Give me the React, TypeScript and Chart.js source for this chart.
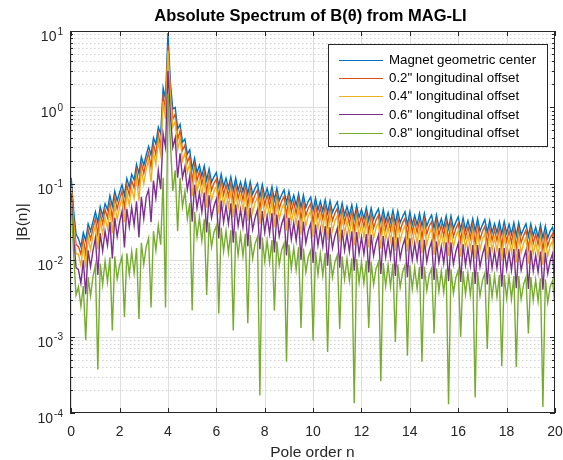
import React, { useEffect, useRef } from "react";
import { Chart, registerables } from "chart.js";

Chart.register(...registerables);

const FONT = '"Liberation Sans", Arial, Helvetica, sans-serif';

// Pole order n, sampled every 0.1 from 0 to 20
const poleOrder: number[] = Array.from({ length: 201 }, (_, i) => i / 10);

const magnetCenter = [
  0.12, 0.045, 0.022, 0.019, 0.015, 0.023, 0.018, 0.03, 0.024, 0.032,
  0.043, 0.031, 0.05, 0.038, 0.055, 0.046, 0.07, 0.051, 0.08, 0.06,
  0.077, 0.097, 0.071, 0.117, 0.091, 0.133, 0.112, 0.18, 0.136, 0.225,
  0.175, 0.238, 0.31, 0.238, 0.4, 0.33, 0.55, 0.45, 1.8, 1.3,
  9.4, 2.1, 0.95, 1.0, 0.52, 0.6, 0.35, 0.386, 0.245, 0.28,
  0.156, 0.215, 0.14, 0.175, 0.126, 0.172, 0.112, 0.157, 0.105, 0.123,
  0.14, 0.093, 0.134, 0.092, 0.118, 0.0875, 0.123, 0.082, 0.119, 0.082,
  0.106, 0.079, 0.111, 0.074, 0.107, 0.0735, 0.0875, 0.101, 0.067, 0.098,
  0.068, 0.087, 0.065, 0.092, 0.061, 0.088, 0.06, 0.072, 0.083, 0.056,
  0.08, 0.055, 0.071, 0.0525, 0.074, 0.049, 0.071, 0.049, 0.059, 0.067,
  0.045, 0.065, 0.0455, 0.059, 0.044, 0.062, 0.0415, 0.06, 0.042, 0.05,
  0.058, 0.039, 0.056, 0.039, 0.0505, 0.038, 0.053, 0.035, 0.052, 0.036,
  0.046, 0.035, 0.049, 0.033, 0.048, 0.034, 0.041, 0.047, 0.032, 0.046,
  0.032, 0.042, 0.0315, 0.045, 0.03, 0.044, 0.031, 0.037, 0.043, 0.029,
  0.043, 0.029, 0.0385, 0.029, 0.041, 0.028, 0.041, 0.028, 0.034, 0.039,
  0.0265, 0.039, 0.027, 0.035, 0.0265, 0.038, 0.026, 0.038, 0.026, 0.0315,
  0.037, 0.025, 0.036, 0.025, 0.033, 0.0245, 0.035, 0.024, 0.035, 0.024,
  0.029, 0.034, 0.023, 0.033, 0.023, 0.03, 0.023, 0.032, 0.022, 0.032,
  0.0225, 0.0295, 0.022, 0.031, 0.021, 0.031, 0.0215, 0.0255, 0.03, 0.0205,
  0.03, 0.021, 0.027, 0.02, 0.029, 0.0195, 0.028, 0.0195, 0.024, 0.027,
  0.018,
];

const offset02 = [
  0.1, 0.035, 0.016, 0.015, 0.012, 0.019, 0.012, 0.025, 0.0187, 0.0266,
  0.035, 0.0216, 0.041, 0.03, 0.046, 0.036, 0.057, 0.035, 0.066, 0.047,
  0.063, 0.08, 0.049, 0.096, 0.0715, 0.11, 0.088, 0.148, 0.094, 0.185,
  0.1375, 0.196, 0.254, 0.165, 0.33, 0.24, 0.45, 0.3, 1.5, 0.9,
  6.5, 1.7, 0.7, 0.82, 0.38, 0.49, 0.275, 0.32, 0.19, 0.23,
  0.108, 0.176, 0.11, 0.144, 0.099, 0.141, 0.0775, 0.129, 0.0825, 0.1015,
  0.115, 0.064, 0.11, 0.072, 0.097, 0.069, 0.101, 0.057, 0.0976, 0.064,
  0.087, 0.062, 0.091, 0.051, 0.088, 0.058, 0.072, 0.083, 0.0465, 0.08,
  0.053, 0.072, 0.051, 0.075, 0.042, 0.072, 0.047, 0.0595, 0.068, 0.0385,
  0.0656, 0.043, 0.0585, 0.041, 0.061, 0.034, 0.058, 0.0385, 0.048, 0.055,
  0.031, 0.053, 0.036, 0.0486, 0.0347, 0.051, 0.0287, 0.049, 0.033, 0.041,
  0.0476, 0.0268, 0.046, 0.031, 0.042, 0.0297, 0.0435, 0.0244, 0.0426, 0.028,
  0.038, 0.0275, 0.04, 0.023, 0.039, 0.0264, 0.0336, 0.0385, 0.022, 0.0377,
  0.0253, 0.035, 0.0248, 0.0369, 0.0207, 0.036, 0.0242, 0.0308, 0.0353, 0.0202,
  0.0353, 0.0231, 0.0319, 0.0231, 0.0336, 0.0193, 0.0336, 0.022, 0.028, 0.032,
  0.0183, 0.032, 0.0215, 0.0289, 0.0209, 0.0312, 0.0179, 0.0312, 0.0204, 0.0259,
  0.0303, 0.0174, 0.0295, 0.0198, 0.0274, 0.0193, 0.0287, 0.0165, 0.0287, 0.0187,
  0.0238, 0.0279, 0.016, 0.0271, 0.0182, 0.0251, 0.0182, 0.0262, 0.015, 0.0262,
  0.0176, 0.0243, 0.017, 0.0254, 0.0146, 0.0254, 0.017, 0.021, 0.0246, 0.0141,
  0.0246, 0.0165, 0.022, 0.016, 0.0238, 0.0136, 0.023, 0.0154, 0.0196, 0.0221,
  0.0127,
];

const offset04 = [
  0.09, 0.03, 0.012, 0.012, 0.0085, 0.015, 0.008, 0.0198, 0.0136, 0.0209,
  0.0284, 0.0138, 0.033, 0.022, 0.036, 0.026, 0.046, 0.0225, 0.053, 0.034,
  0.0495, 0.064, 0.0315, 0.077, 0.052, 0.087, 0.064, 0.119, 0.06, 0.1485,
  0.1, 0.154, 0.205, 0.105, 0.26, 0.18, 0.36, 0.24, 1.2, 0.7,
  5.5, 1.4, 0.55, 0.66, 0.28, 0.4, 0.2, 0.252, 0.14, 0.185,
  0.069, 0.142, 0.08, 0.114, 0.072, 0.1135, 0.0495, 0.1036, 0.06, 0.08,
  0.0924, 0.041, 0.0884, 0.0524, 0.0768, 0.05, 0.081, 0.0363, 0.0785, 0.0468,
  0.069, 0.0452, 0.0733, 0.0327, 0.0706, 0.042, 0.0567, 0.0667, 0.0297, 0.0647,
  0.0388, 0.057, 0.0372, 0.0607, 0.027, 0.058, 0.0344, 0.0468, 0.0548, 0.0246,
  0.0528, 0.0312, 0.0462, 0.03, 0.0488, 0.0216, 0.0469, 0.028, 0.038, 0.0442,
  0.0198, 0.0429, 0.026, 0.0384, 0.0252, 0.0409, 0.0183, 0.0396, 0.024, 0.0325,
  0.0383, 0.0171, 0.037, 0.0224, 0.033, 0.0216, 0.035, 0.0156, 0.0343, 0.0204,
  0.03, 0.02, 0.0323, 0.0147, 0.0317, 0.0192, 0.0264, 0.031, 0.0141, 0.0304,
  0.0184, 0.0276, 0.018, 0.0297, 0.0132, 0.029, 0.0176, 0.0242, 0.0284, 0.0129,
  0.0284, 0.0168, 0.0252, 0.0168, 0.0271, 0.0123, 0.0271, 0.016, 0.022, 0.0257,
  0.0117, 0.0257, 0.0156, 0.0228, 0.0152, 0.0251, 0.0114, 0.0251, 0.0148, 0.0204,
  0.0244, 0.0111, 0.0238, 0.0144, 0.0216, 0.014, 0.0231, 0.0105, 0.0231, 0.0136,
  0.0187, 0.0224, 0.0102, 0.0218, 0.0132, 0.0198, 0.0132, 0.0211, 0.0096, 0.0211,
  0.0128, 0.0192, 0.0124, 0.0205, 0.0093, 0.0205, 0.0124, 0.0165, 0.0198, 0.009,
  0.0198, 0.012, 0.0174, 0.0116, 0.0191, 0.0087, 0.0185, 0.0112, 0.0154, 0.0178,
  0.0081,
];

const offset06 = [
  0.075, 0.02, 0.008, 0.0075, 0.005, 0.01, 0.0036, 0.0135, 0.0082, 0.0133,
  0.0194, 0.0064, 0.0225, 0.0132, 0.024, 0.0156, 0.0315, 0.0105, 0.036, 0.0204,
  0.0315, 0.0437, 0.0147, 0.047, 0.0273, 0.049, 0.0288, 0.059, 0.02, 0.0675,
  0.035, 0.067, 0.084, 0.0315, 0.11, 0.065, 0.15, 0.085, 0.45, 0.3,
  3.0, 0.8, 0.3, 0.4, 0.12, 0.25, 0.12, 0.168, 0.084, 0.126,
  0.032, 0.097, 0.048, 0.076, 0.043, 0.077, 0.023, 0.0707, 0.036, 0.0508,
  0.063, 0.0192, 0.0603, 0.0314, 0.0512, 0.03, 0.0554, 0.0169, 0.0536, 0.0281,
  0.046, 0.0271, 0.05, 0.0153, 0.0482, 0.0252, 0.036, 0.0455, 0.0139, 0.0441,
  0.0233, 0.038, 0.0223, 0.0414, 0.0126, 0.0396, 0.0206, 0.0298, 0.0374, 0.0115,
  0.036, 0.0187, 0.0308, 0.018, 0.0333, 0.0101, 0.032, 0.0168, 0.0242, 0.0302,
  0.0092, 0.0293, 0.0156, 0.0256, 0.0151, 0.0279, 0.0085, 0.027, 0.0144, 0.0207,
  0.0261, 0.008, 0.0252, 0.0134, 0.022, 0.013, 0.0239, 0.0073, 0.0234, 0.0122,
  0.02, 0.012, 0.022, 0.0069, 0.0216, 0.0115, 0.0168, 0.0212, 0.0066, 0.0207,
  0.011, 0.0184, 0.0108, 0.0203, 0.0062, 0.0198, 0.0106, 0.0154, 0.0194, 0.006,
  0.0194, 0.0101, 0.0168, 0.0101, 0.0185, 0.0057, 0.0185, 0.0096, 0.014, 0.0176,
  0.0055, 0.0176, 0.0094, 0.0152, 0.0091, 0.0171, 0.0053, 0.0171, 0.0089, 0.013,
  0.0167, 0.0052, 0.0162, 0.0086, 0.0144, 0.0084, 0.0158, 0.0049, 0.0158, 0.0082,
  0.0119, 0.0153, 0.0048, 0.0149, 0.0079, 0.0132, 0.0079, 0.0144, 0.0045, 0.0144,
  0.0077, 0.0128, 0.0074, 0.014, 0.0043, 0.014, 0.0074, 0.0105, 0.0135, 0.0042,
  0.0135, 0.0072, 0.0116, 0.007, 0.013, 0.0041, 0.0126, 0.0067, 0.0098, 0.0122,
  0.0038,
];

const offset08 = [
  0.06, 0.012, 0.0035, 0.0045, 0.0025, 0.0046, 0.0009, 0.006, 0.0034, 0.0061,
  0.0086, 0.00037, 0.009, 0.0048, 0.0097, 0.0052, 0.0109, 0.0012, 0.0112, 0.0057,
  0.0086, 0.0112, 0.0018, 0.0123, 0.0065, 0.013, 0.0068, 0.0144, 0.0017, 0.0169,
  0.0088, 0.015, 0.0195, 0.0024, 0.024, 0.0134, 0.0286, 0.016, 0.12, 0.0024,
  1.5, 0.35, 0.08, 0.15, 0.024, 0.12, 0.05, 0.08, 0.035, 0.056,
  0.0022, 0.043, 0.02, 0.036, 0.018, 0.0344, 0.0035, 0.0314, 0.015, 0.0232,
  0.028, 0.002, 0.0268, 0.0131, 0.0243, 0.0125, 0.0246, 0.0012, 0.0238, 0.0117,
  0.0219, 0.0113, 0.0222, 0.0015, 0.0214, 0.0105, 0.0165, 0.0202, 0.00017, 0.0196,
  0.0097, 0.018, 0.0093, 0.0184, 0.0022, 0.0176, 0.0086, 0.0136, 0.0166, 0.00047,
  0.016, 0.0078, 0.0146, 0.0075, 0.0148, 0.0013, 0.0142, 0.007, 0.011, 0.0134,
  0.00089, 0.013, 0.0065, 0.0122, 0.0063, 0.0124, 0.00063, 0.012, 0.006, 0.0094,
  0.0116, 0.00126, 0.0112, 0.0056, 0.0105, 0.0054, 0.0106, 0.000134, 0.0104, 0.0051,
  0.0095, 0.005, 0.0098, 0.0013, 0.0096, 0.0048, 0.0077, 0.0094, 0.00026, 0.0092,
  0.0046, 0.0087, 0.0045, 0.009, 0.00085, 0.0088, 0.0044, 0.007, 0.0086, 0.00056,
  0.0086, 0.0042, 0.008, 0.0042, 0.0082, 0.00047, 0.0082, 0.004, 0.0064, 0.0078,
  0.0011, 0.0078, 0.0039, 0.0072, 0.0038, 0.0076, 0.00013, 0.0076, 0.0037, 0.0059,
  0.0074, 0.00099, 0.0072, 0.0036, 0.0068, 0.0035, 0.007, 0.00016, 0.007, 0.0034,
  0.0054, 0.0068, 0.00069, 0.0066, 0.0033, 0.0063, 0.0033, 0.0064, 0.00041, 0.0064,
  0.0032, 0.0061, 0.0031, 0.0062, 0.0004, 0.0062, 0.0031, 0.0048, 0.006, 0.0011,
  0.006, 0.003, 0.0055, 0.0029, 0.0058, 0.00012, 0.0056, 0.0028, 0.0045, 0.0054,
  0.0025,
];

const seriesNames = [
  "Magnet geometric center",
  '0.2" longitudinal offset',
  '0.4" longitudinal offset',
  '0.6" longitudinal offset',
  '0.8" longitudinal offset',
];
const seriesValues = [magnetCenter, offset02, offset04, offset06, offset08];
const seriesColors = ["#0072BD", "#D95319", "#EDB120", "#7E2F8E", "#77AC30"];

const xTickValues = [0, 2, 4, 6, 8, 10, 12, 14, 16, 18, 20];
const yTickExponents = [-4, -3, -2, -1, 0, 1];
const titleText = "Absolute Spectrum of B(\u03B8) from MAG-LI";
const xLabelText = "Pole order n";
const yLabelText = "|B(n)|";

const AXIS_COLOR = "#262626";

function hLine(ctx: CanvasRenderingContext2D, x1: number, x2: number, y: number) {
  ctx.beginPath();
  ctx.moveTo(x1, y);
  ctx.lineTo(x2, y);
  ctx.stroke();
}
function vLine(ctx: CanvasRenderingContext2D, x: number, y1: number, y2: number) {
  ctx.beginPath();
  ctx.moveTo(x, y1);
  ctx.lineTo(x, y2);
  ctx.stroke();
}

const matlabAxes = {
  id: "matlabAxes",
  beforeDatasetsDraw(chart: any) {
    const { ctx, chartArea: a, scales } = chart;
    const xs = scales.x;
    const ys = scales.y;
    ctx.save();
    ctx.lineWidth = 1;
    // minor y grid (dotted)
    ctx.strokeStyle = "#d2d2d2";
    ctx.setLineDash([1.5, 2.5]);
    for (let e = -4; e < 1; e++) {
      for (let m = 2; m <= 9; m++) {
        const py = Math.round(ys.getPixelForValue(m * Math.pow(10, e))) + 0.5;
        hLine(ctx, a.left, a.right, py);
      }
    }
    ctx.setLineDash([]);
    // major grid
    ctx.strokeStyle = "#dedede";
    yTickExponents.forEach((e) => {
      const py = Math.round(ys.getPixelForValue(Math.pow(10, e))) + 0.5;
      if (py > a.top + 1 && py < a.bottom - 1) hLine(ctx, a.left, a.right, py);
    });
    xTickValues.forEach((v) => {
      const px = Math.round(xs.getPixelForValue(v)) + 0.5;
      if (px > a.left + 1 && px < a.right - 1) vLine(ctx, px, a.top, a.bottom);
    });
    ctx.restore();
  },
  afterDatasetsDraw(chart: any) {
    const { ctx, chartArea: a, scales } = chart;
    const xs = scales.x;
    const ys = scales.y;
    ctx.save();
    ctx.strokeStyle = AXIS_COLOR;
    ctx.lineWidth = 1;
    // box
    ctx.strokeRect(a.left + 0.5, a.top + 0.5, a.right - a.left - 1, a.bottom - a.top - 1);
    // x ticks (inward, bottom and top)
    xTickValues.forEach((v) => {
      const px = Math.round(xs.getPixelForValue(v)) + 0.5;
      vLine(ctx, px, a.bottom, a.bottom - 5);
      vLine(ctx, px, a.top, a.top + 5);
    });
    // y ticks (major + minor), left and right
    for (let e = -4; e <= 1; e++) {
      for (let m = 1; m <= 9; m++) {
        const v = m * Math.pow(10, e);
        if (v > 10.0001) continue;
        const len = m === 1 ? 5 : 3;
        const py = Math.round(ys.getPixelForValue(v)) + 0.5;
        hLine(ctx, a.left, a.left + len, py);
        hLine(ctx, a.right, a.right - len, py);
      }
    }
    // x tick labels
    ctx.fillStyle = AXIS_COLOR;
    ctx.font = `14px ${FONT}`;
    ctx.textAlign = "center";
    ctx.textBaseline = "alphabetic";
    xTickValues.forEach((v) => {
      const px = xs.getPixelForValue(v);
      ctx.fillText(String(v), px, a.bottom + 23);
    });
    // y tick labels 10^e
    const rightEdge = a.left - 7;
    yTickExponents.forEach((e) => {
      const py = ys.getPixelForValue(Math.pow(10, e));
      const expStr = String(e);
      ctx.font = `10px ${FONT}`;
      const wE = ctx.measureText(expStr).width;
      ctx.font = `14px ${FONT}`;
      const wB = ctx.measureText("10").width;
      ctx.textAlign = "left";
      ctx.fillText("10", rightEdge - wE - 1 - wB, py + 10);
      ctx.font = `10px ${FONT}`;
      ctx.fillText(expStr, rightEdge - wE, py + 3.5);
    });
    // axis labels
    ctx.font = `15.5px ${FONT}`;
    ctx.textAlign = "center";
    ctx.fillText(xLabelText, (a.left + a.right) / 2, 457);
    ctx.save();
    ctx.translate(23, (a.top + a.bottom) / 2);
    ctx.rotate(-Math.PI / 2);
    ctx.textBaseline = "middle";
    ctx.fillText(yLabelText, 0, 0);
    ctx.restore();
    // title
    ctx.fillStyle = "#000";
    ctx.font = `bold 16.5px ${FONT}`;
    ctx.textAlign = "center";
    ctx.textBaseline = "alphabetic";
    ctx.fillText(titleText, (a.left + a.right) / 2 - 2, 21);
    ctx.restore();
  },
  afterDraw(chart: any) {
    const { ctx } = chart;
    ctx.save();
    const bx = 328, by = 44, bw = 219, bh = 102;
    ctx.fillStyle = "#ffffff";
    ctx.fillRect(bx, by, bw, bh);
    ctx.strokeStyle = AXIS_COLOR;
    ctx.lineWidth = 1;
    ctx.strokeRect(bx + 0.5, by + 0.5, bw, bh);
    ctx.font = `13.3px ${FONT}`;
    ctx.textAlign = "left";
    ctx.textBaseline = "middle";
    seriesNames.forEach((name, i) => {
      const ry = by + 15.5 + i * 18.3;
      ctx.strokeStyle = seriesColors[i];
      ctx.lineWidth = 1;
      hLine(ctx, bx + 11, bx + 55, Math.round(ry) + 0.5);
      ctx.fillStyle = "#000";
      ctx.fillText(name, bx + 61, ry + 0.5);
    });
    ctx.restore();
  },
};

export default function App() {
  const canvasRef = useRef<HTMLCanvasElement | null>(null);

  useEffect(() => {
    document.body.style.margin = "0";
    const canvas = canvasRef.current;
    if (!canvas) return;
    const datasets = seriesValues.map((vals, i) => ({
      label: seriesNames[i],
      data: poleOrder.map((x, j) => ({ x, y: vals[j] })),
      borderColor: seriesColors[i],
      backgroundColor: seriesColors[i],
      borderWidth: 1.4,
      pointRadius: 0,
      fill: false,
      tension: 0,
      order: seriesValues.length - i,
    }));
    const chart = new Chart(canvas, {
      type: "line",
      data: { datasets },
      options: {
        animation: false,
        responsive: false,
        devicePixelRatio: 1,
        events: [],
        layout: { padding: { top: 31, right: 8, bottom: 0, left: 0 } },
        plugins: {
          legend: { display: false },
          title: { display: false },
          tooltip: { enabled: false },
        },
        scales: {
          x: {
            type: "linear",
            min: -0.05,
            max: 20,
            grid: { display: false },
            border: { display: false },
            ticks: { display: false },
            afterFit: (s: any) => {
              s.height = 47;
            },
          },
          y: {
            type: "logarithmic",
            min: 1e-4,
            max: 10,
            grid: { display: false },
            border: { display: false },
            ticks: { display: false },
            afterFit: (s: any) => {
              s.width = 70;
            },
          },
        },
      } as any,
      plugins: [matlabAxes],
    });
    return () => chart.destroy();
  }, []);

  return (
    <div style={{ width: 563, height: 460 }}>
      <canvas ref={canvasRef} width={563} height={460} style={{ display: "block" }} />
    </div>
  );
}
